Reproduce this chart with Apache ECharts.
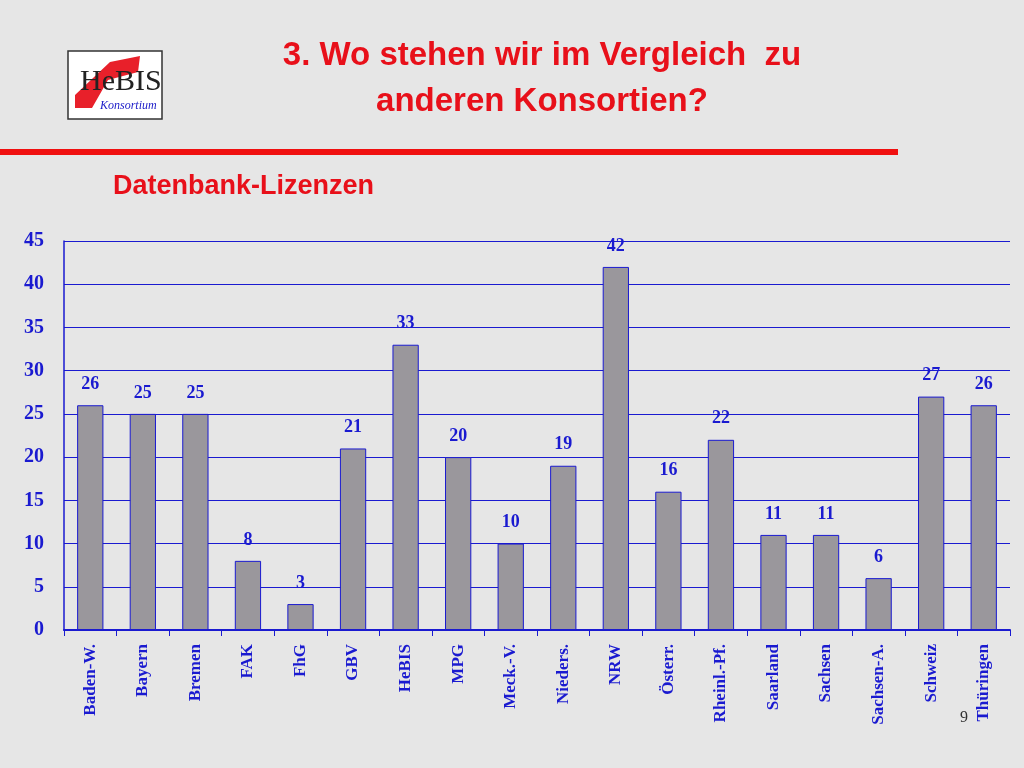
<!DOCTYPE html>
<html><head><meta charset="utf-8">
<script src="https://cdn.jsdelivr.net/npm/echarts@6/dist/echarts.min.js"></script>
<style>html,body{margin:0;background:#e6e6e6}#c{width:1024px;height:768px}</style>
</head><body><div id="c"></div>
<script>
const categories = ['Baden-W.','Bayern','Bremen','FAK','FhG','GBV','HeBIS','MPG','Meck.-V.','Nieders.','NRW','Österr.','Rheinl.-Pf.','Saarland','Sachsen','Sachsen-A.','Schweiz','Thüringen'];
const values = [26,25,25,8,3,21,33,20,10,19,42,16,22,11,11,6,27,26];
const yTicks = [0,5,10,15,20,25,30,35,40,45];

const chart = echarts.init(document.getElementById('c'));
const serif = 'Liberation Serif';
chart.setOption({
  backgroundColor:'#e6e6e6',
  animation:false,
  graphic:[
    {type:'rect',shape:{x:68,y:51,width:94,height:68},style:{fill:'#fff',stroke:'#333',lineWidth:1.5}},
    {type:'polygon',shape:{points:[[75,95],[110,62],[140,56],[138,72],[108,80],[92,108],[75,108]]},style:{fill:'#e8202a'}},
    {type:'text',x:80,y:67,style:{text:'HeBIS',font:'30px "Liberation Serif"',fill:'#222'}},
    {type:'text',x:100,y:100,style:{text:'Konsortium',font:'italic 12px "Liberation Serif"',fill:'#1a1ac8'}},
    {type:'text',x:542,y:33,style:{text:'3. Wo stehen wir im Vergleich  zu\nanderen Konsortien?',font:'bold 33px "Liberation Sans"',fill:'#e8101a',align:'center',lineHeight:46}},
    {type:'rect',shape:{x:0,y:149,width:898,height:6},style:{fill:'#f01010'}},
    {type:'text',x:113,y:173,style:{text:'Datenbank-Lizenzen',font:'bold 27px "Liberation Sans"',fill:'#e8101a'}},
    {type:'text',x:960,y:710,style:{text:'9',font:'16px "Liberation Serif"',fill:'#333'}}
  ],
  grid:{left:64,right:14,top:241,bottom:138},
  xAxis:{type:'category',data:categories,
    axisLine:{lineStyle:{color:'#1a1ad0',width:2}},
    axisTick:{show:true,length:6,lineStyle:{color:'#1a1ad0'}},
    axisLabel:{rotate:90,interval:0,margin:14,color:'#1a1ad0',fontFamily:serif,fontWeight:'bold',fontSize:17}},
  yAxis:{type:'value',min:0,max:45,interval:5,
    axisLine:{show:true,lineStyle:{color:'#1a1ad0',width:1.5}},
    axisTick:{show:false},
    axisLabel:{color:'#1a1ad0',fontFamily:serif,fontWeight:'bold',fontSize:20,margin:20,
      formatter:v=>yTicks.includes(v)?String(v):''},
    splitLine:{lineStyle:{color:'#1a1ad0',width:1}}},
  series:[{type:'bar',data:values,barWidth:'50%',
    itemStyle:{color:'#9a979c',borderColor:'#1a1ad0',borderWidth:1},
    label:{show:true,position:'top',distance:12,color:'#1a1ad0',fontFamily:serif,fontWeight:'bold',fontSize:18}}]
});
</script></body></html>
